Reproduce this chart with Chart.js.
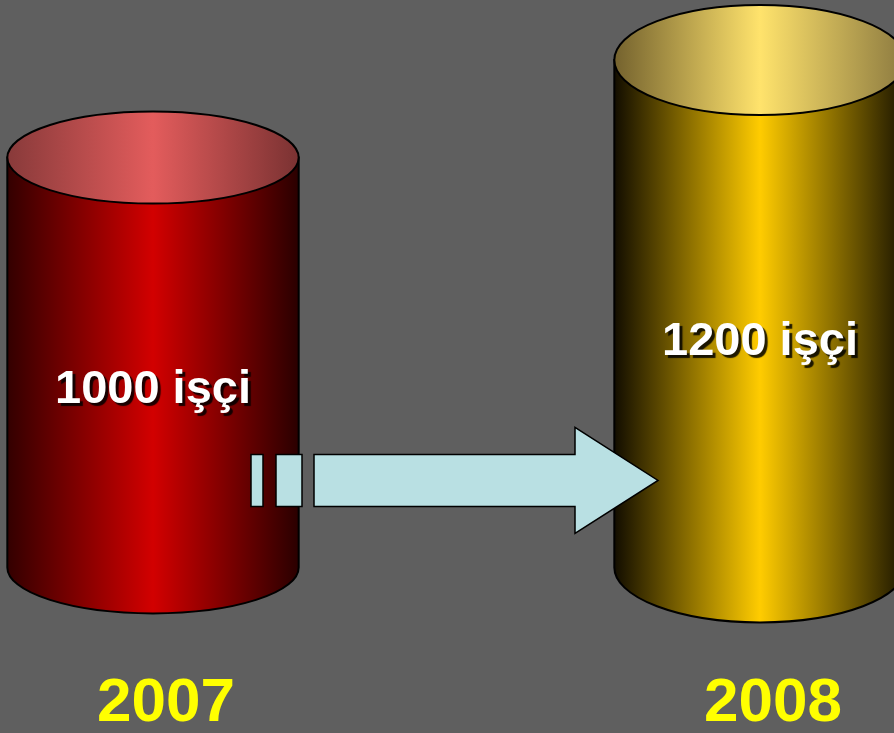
<!DOCTYPE html>
<html>
<head>
<meta charset="utf-8">
<script src="https://cdn.jsdelivr.net/npm/chart.js@4"></script>
<style>
  html, body { margin: 0; padding: 0; background: #5f5f5f; }
  #wrap { width: 894px; height: 733px; position: relative; }
</style>
</head>
<body>
<div id="wrap"><canvas id="myChart"></canvas></div>
<script>
// years along the x-axis
var years = ['2007', '2008'];
// number of workers per year
var workers = [1000, 1200];
var unit = 'işçi';

// colours for each cylinder: body edge/centre, top edge/centre, ellipse height
var looks = [
  { edgeL: '#330000', mid: '#d20000', edgeR: '#2a0000', topL: '#883a3a', topMid: '#e35c5c', topR: '#7a3232', ry: 46 },
  { edgeL: '#120d00', mid: '#ffcc00', edgeR: '#1a1400', topL: '#74622e', topMid: '#ffe36c', topR: '#8c7a40', ry: 55 }
];

function drawCylinder(ctx, p, look) {
  var rx = p.width / 2, ry = look.ry;
  var left = p.x - rx, right = p.x + rx;
  var body = ctx.createLinearGradient(left, 0, right, 0);
  body.addColorStop(0, look.edgeL);
  body.addColorStop(0.5, look.mid);
  body.addColorStop(1, look.edgeR);
  ctx.save();
  ctx.beginPath();
  ctx.moveTo(left, p.y);
  ctx.lineTo(left, p.base);
  ctx.ellipse(p.x, p.base, rx, ry, 0, Math.PI, 0, true);
  ctx.lineTo(right, p.y);
  ctx.closePath();
  ctx.fillStyle = body;
  ctx.fill();
  ctx.lineWidth = 2;
  ctx.strokeStyle = '#000';
  ctx.stroke();

  var top = ctx.createLinearGradient(left, 0, right, 0);
  top.addColorStop(0, look.topL);
  top.addColorStop(0.5, look.topMid);
  top.addColorStop(1, look.topR);
  ctx.beginPath();
  ctx.ellipse(p.x, p.y, rx, ry, 0, 0, Math.PI * 2);
  ctx.fillStyle = top;
  ctx.fill();
  ctx.stroke();
  ctx.restore();
}

function drawArrow(ctx, a, b) {
  var cy = a.base - 87;
  var h = 26, hh = 53;
  ctx.save();
  ctx.fillStyle = '#b9e0e3';
  ctx.strokeStyle = '#000';
  ctx.lineWidth = 1.5;
  [[a.x + 98, a.x + 110], [a.x + 123, a.x + 149]].forEach(function (r) {
    ctx.beginPath();
    ctx.rect(r[0], cy - h, r[1] - r[0], 2 * h);
    ctx.fill();
    ctx.stroke();
  });
  var x0 = a.x + 161, hx = b.x - 185, tip = b.x - 102;
  ctx.beginPath();
  ctx.moveTo(x0, cy - h);
  ctx.lineTo(hx, cy - h);
  ctx.lineTo(hx, cy - hh);
  ctx.lineTo(tip, cy);
  ctx.lineTo(hx, cy + hh);
  ctx.lineTo(hx, cy + h);
  ctx.lineTo(x0, cy + h);
  ctx.closePath();
  ctx.fill();
  ctx.stroke();
  ctx.restore();
}

var cylinders = {
  id: 'cylinders',
  afterDatasetsDraw: function (chart) {
    var ctx = chart.ctx;
    var bars = chart.getDatasetMeta(0).data.map(function (bar) {
      return bar.getProps(['x', 'y', 'base', 'width'], true);
    });
    bars.forEach(function (p, i) { drawCylinder(ctx, p, looks[i]); });
    drawArrow(ctx, bars[0], bars[1]);

    ctx.save();
    ctx.font = 'bold 47px "Liberation Sans", Arial, sans-serif';
    ctx.textAlign = 'center';
    ctx.textBaseline = 'middle';
    ctx.fillStyle = '#ffffff';
    ctx.shadowColor = 'rgba(0,0,0,0.85)';
    ctx.shadowOffsetX = 3;
    ctx.shadowOffsetY = 3;
    ctx.shadowBlur = 1;
    bars.forEach(function (p, i) {
      ctx.fillText(workers[i] + ' ' + unit, p.x, (p.y + p.base) / 2 + 28);
    });
    ctx.restore();
  }
};

var ctx = document.getElementById('myChart');
var myChart = new Chart(ctx, {
  type: 'bar',
  data: {
    labels: years,
    datasets: [{
      data: workers,
      base: 160,
      backgroundColor: 'rgba(0,0,0,0)',
      borderWidth: 0,
      barPercentage: 0.48,
      categoryPercentage: 1
    }]
  },
  options: {
    responsive: true,
    maintainAspectRatio: false,
    animation: false,
    layout: { padding: { left: 153, right: 134, top: 60, bottom: 0 } },
    plugins: { legend: { display: false }, tooltip: { enabled: false } },
    scales: {
      x: {
        offset: false,
        grid: { display: false, drawTicks: false },
        border: { display: false },
        ticks: {
          color: '#ffff00',
          padding: 0,
          labelOffset: 13,
          font: { family: '"Liberation Sans", Arial, sans-serif', size: 62, weight: 'bold', lineHeight: 0.94 }
        }
      },
      y: {
        display: false,
        min: -60,
        max: 1200
      }
    }
  },
  plugins: [cylinders]
});
</script>
</body>
</html>
